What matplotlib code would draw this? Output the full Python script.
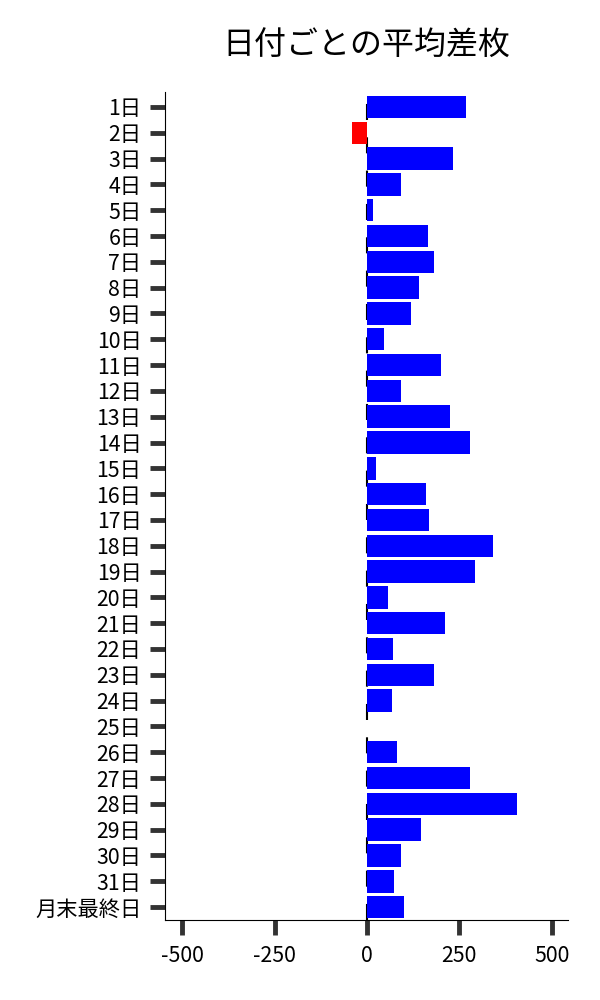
import matplotlib
matplotlib.use("Agg")
import matplotlib.pyplot as plt

plt.rcParams['font.family'] = ['Noto Sans CJK JP', 'DejaVu Sans']

days = [f"{d}日" for d in range(1, 32)] + ["月末最終日"]
avg_diff = [268, -41, 233, 92, 16, 165, 182, 142, 120, 46,
            201, 93, 226, 280, 24, 161, 169, 342, 293, 58,
            210, 71, 182, 68, 0, 81, 279, 406, 146, 92,
            73, 100]
x_ticks = [-500, -250, 0, 250, 500]

colors = ["#ff0000" if v < 0 else "#0000ff" for v in avg_diff]

fig = plt.figure(figsize=(6, 10), dpi=100)
ax = fig.add_axes([0.275, 0.08, 0.672, 0.828])

# dashed zero line, mostly hidden behind the bars
ax.axvline(0, color="black", lw=1.5, linestyle=(0, (7.7, 8.3)), zorder=1)
ax.barh(range(len(days)), avg_diff, height=0.87, color=colors, zorder=2)

ax.set_yticks(range(len(days)))
ax.set_yticklabels(days)
ax.set_ylim(len(days) - 0.5, -0.58)
ax.set_xticks(x_ticks)
ax.set_xticklabels([str(t) for t in x_ticks])
ax.set_xlim(-547, 545)

ax.spines["top"].set_visible(False)
ax.spines["right"].set_visible(False)
ax.tick_params(axis="both", length=11, width=3.5, color="#333333", labelsize=15.3)
ax.tick_params(axis="y", pad=6)
ax.tick_params(axis="x", pad=7)

ax.set_title("日付ごとの平均差枚", fontsize=23, pad=27)

fig.savefig("out.png", dpi=100)
